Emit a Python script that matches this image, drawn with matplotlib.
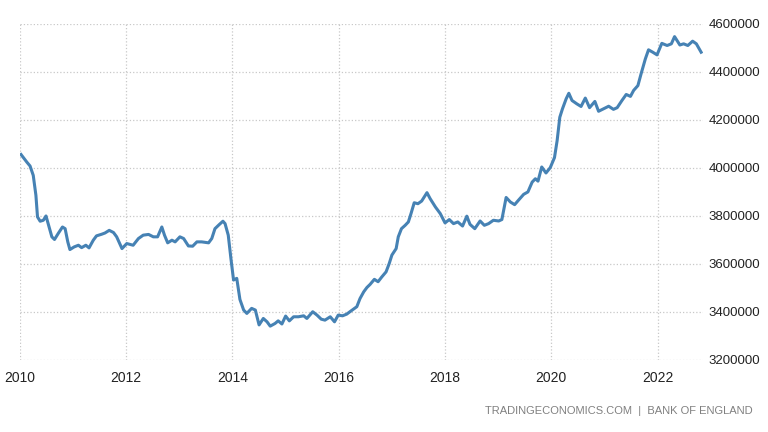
import matplotlib
matplotlib.use("Agg")
import matplotlib.pyplot as plt

# values (decimal year, value)
years = [2010.02, 2010.13, 2010.19, 2010.25, 2010.30, 2010.33, 2010.38, 2010.44, 2010.49, 2010.53,
         2010.60, 2010.65, 2010.72, 2010.80, 2010.85, 2010.90, 2010.94, 2011.02, 2011.10, 2011.16,
         2011.24, 2011.30, 2011.38, 2011.44, 2011.54, 2011.60, 2011.68, 2011.76, 2011.82, 2011.92,
         2012.01, 2012.13, 2012.23, 2012.32, 2012.42, 2012.51, 2012.59, 2012.67, 2012.72, 2012.78,
         2012.86, 2012.92, 2013.01, 2013.08, 2013.17, 2013.25, 2013.33, 2013.42, 2013.55, 2013.61,
         2013.67, 2013.75, 2013.82, 2013.86, 2013.92, 2013.97, 2014.02, 2014.08, 2014.14, 2014.21,
         2014.27, 2014.36, 2014.43, 2014.50, 2014.58, 2014.65, 2014.71, 2014.80, 2014.86, 2014.93,
         2015.00, 2015.07, 2015.15, 2015.24, 2015.34, 2015.40, 2015.51, 2015.59, 2015.67, 2015.74,
         2015.84, 2015.92, 2015.99, 2016.07, 2016.15, 2016.21, 2016.34, 2016.40, 2016.47, 2016.53,
         2016.59, 2016.67, 2016.74, 2016.81, 2016.89, 2016.95, 2017.00, 2017.08, 2017.12, 2017.18,
         2017.25, 2017.31, 2017.36, 2017.42, 2017.49, 2017.56, 2017.66, 2017.72, 2017.82, 2017.91,
         2018.00, 2018.08, 2018.16, 2018.24, 2018.33, 2018.41, 2018.47, 2018.56, 2018.66, 2018.74,
         2018.82, 2018.91, 2019.01, 2019.07, 2019.15, 2019.23, 2019.31, 2019.38, 2019.48, 2019.56,
         2019.64, 2019.70, 2019.75, 2019.82, 2019.90, 2019.98, 2020.06, 2020.11, 2020.16, 2020.21,
         2020.28, 2020.33, 2020.39, 2020.48, 2020.56, 2020.64, 2020.72, 2020.82, 2020.89, 2020.98,
         2021.08, 2021.17, 2021.24, 2021.33, 2021.41, 2021.49, 2021.55, 2021.63, 2021.69, 2021.77,
         2021.83, 2021.91, 2021.99, 2022.08, 2022.18, 2022.26, 2022.32, 2022.42, 2022.49, 2022.57,
         2022.66, 2022.73, 2022.82]
values = [4056000, 4024000, 4008000, 3969000, 3886000, 3796000, 3778000, 3782000, 3800000, 3768000,
          3713000, 3702000, 3727000, 3754000, 3747000, 3692000, 3660000, 3671000, 3678000, 3668000,
          3678000, 3667000, 3699000, 3717000, 3724000, 3729000, 3740000, 3731000, 3713000, 3664000,
          3685000, 3678000, 3706000, 3720000, 3723000, 3713000, 3713000, 3754000, 3720000, 3688000,
          3699000, 3692000, 3713000, 3706000, 3675000, 3674000, 3692000, 3692000, 3688000, 3706000,
          3747000, 3764000, 3778000, 3768000, 3720000, 3623000, 3533000, 3540000, 3452000, 3408000,
          3394000, 3415000, 3408000, 3346000, 3373000, 3359000, 3341000, 3352000, 3363000, 3350000,
          3383000, 3363000, 3380000, 3380000, 3384000, 3373000, 3401000, 3387000, 3370000, 3366000,
          3380000, 3359000, 3387000, 3384000, 3391000, 3401000, 3422000, 3456000, 3484000, 3502000,
          3515000, 3536000, 3526000, 3546000, 3567000, 3602000, 3637000, 3664000, 3713000, 3747000,
          3761000, 3775000, 3810000, 3855000, 3851000, 3862000, 3897000, 3872000, 3837000, 3810000,
          3771000, 3785000, 3768000, 3775000, 3758000, 3799000, 3765000, 3747000, 3779000, 3761000,
          3768000, 3782000, 3779000, 3785000, 3877000, 3858000, 3847000, 3865000, 3890000, 3900000,
          3941000, 3955000, 3945000, 4004000, 3979000, 4001000, 4043000, 4114000, 4211000, 4246000,
          4288000, 4311000, 4281000, 4267000, 4256000, 4291000, 4251000, 4277000, 4236000, 4246000,
          4257000, 4244000, 4251000, 4281000, 4306000, 4298000, 4323000, 4343000, 4392000, 4454000,
          4492000, 4482000, 4471000, 4519000, 4510000, 4517000, 4547000, 4512000, 4517000, 4510000,
          4528000, 4517000, 4482000]

x_ticks = [2010, 2012, 2014, 2016, 2018, 2020, 2022]
y_ticks = [3200000, 3400000, 3600000, 3800000, 4000000, 4200000, 4400000, 4600000]

font = ['Liberation Sans', 'DejaVu Sans']

fig = plt.figure(figsize=(7.68, 4.32), dpi=100)
ax = fig.add_axes([0.026, 0.1667, 0.889, 0.778])

ax.plot(years, values, color='#4682b4', linewidth=2.2, solid_joinstyle='round')

ax.set_xlim(2010, 2022.85)
ax.set_ylim(3200000, 4600000)
ax.set_xticks(x_ticks)
ax.set_xticklabels([str(t) for t in x_ticks], family=font, fontsize=10, color='#222222')
ax.set_yticks(y_ticks)
ax.set_yticklabels([str(t) for t in y_ticks], family=font, fontsize=9.5, color='#222222')
ax.yaxis.tick_right()
ax.tick_params(axis='both', length=0)
ax.tick_params(axis='x', pad=8)
ax.tick_params(axis='y', pad=4)

ax.grid(True, linestyle=':', color='#c8c8c8', linewidth=0.9)
for s in ax.spines.values():
    s.set_visible(False)

fig.text(0.98, 0.048, 'TRADINGECONOMICS.COM  |  BANK OF ENGLAND', ha='right', va='center',
         family=font, fontsize=8, color='#808080')

fig.savefig('out.png', dpi=100)
